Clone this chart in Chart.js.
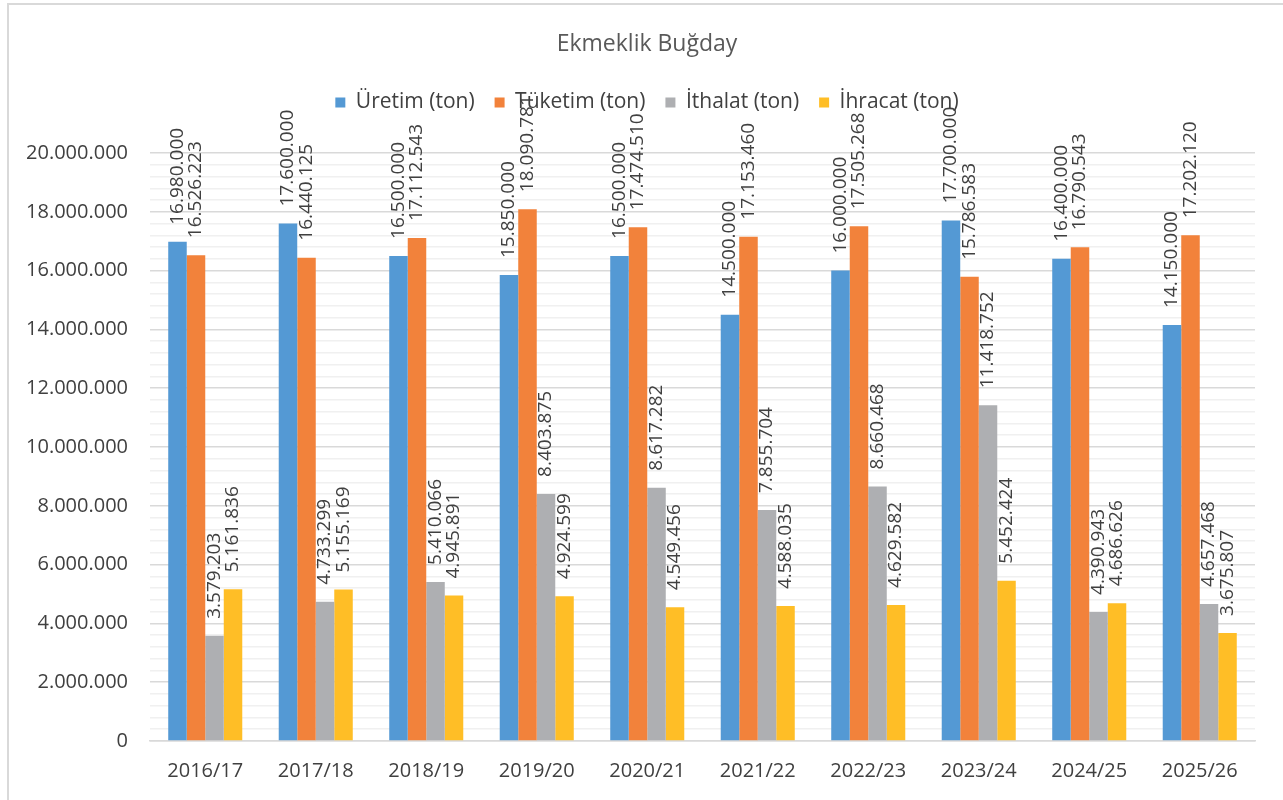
<!DOCTYPE html>
<html>
<head>
<meta charset="utf-8">
<script src="https://cdn.jsdelivr.net/npm/chart.js@4.4.1/dist/chart.umd.min.js"></script>
<style>
  html, body { margin: 0; padding: 0; background: #ffffff; }
  #wrap { position: relative; width: 1283px; height: 800px; overflow: hidden; }
  #frame { position: absolute; left: 7px; top: 3px; width: 1300px; height: 820px;
           border-left: 2px solid #d9d9d9; border-top: 2px solid #d9d9d9; }
  #c { position: absolute; left: 0; top: 0; }
</style>
</head>
<body>
<div id="wrap">
  <div id="frame"></div>
  <canvas id="c" width="1283" height="800"></canvas>
</div>
<script>
const categories = ['2016/17','2017/18','2018/19','2019/20','2020/21','2021/22','2022/23','2023/24','2024/25','2025/26'];
const uretim  = [16980000, 17600000, 16500000, 15850000, 16500000, 14500000, 16000000, 17700000, 16400000, 14150000];
const tuketim = [16526223, 16440125, 17112543, 18090781, 17474510, 17153460, 17505268, 15786583, 16790543, 17202120];
const ithalat = [3579203, 4733299, 5410066, 8403875, 8617282, 7855704, 8660468, 11418752, 4390943, 4657468];
const ihracat = [5161836, 5155169, 4945891, 4924599, 4549456, 4588035, 4629582, 5452424, 4686626, 3675807];
const seriesNames = ['Üretim (ton)', 'Tüketim (ton)', 'İthalat (ton)', 'İhracat (ton)'];
const titleText = 'Ekmeklik Buğday';

function fmt(v) {
  return String(Math.round(v)).replace(/\B(?=(\d{3})+(?!\d))/g, '.');
}

const FONT = "'Open Sans', 'Noto Sans', sans-serif";

const labelPlugin = {
  id: 'barLabels',
  afterDatasetsDraw(chart) {
    const ctx = chart.ctx;
    ctx.save();
    ctx.font = "19px " + FONT;
    ctx.fillStyle = '#404040';
    ctx.textAlign = 'left';
    ctx.textBaseline = 'middle';
    chart.data.datasets.forEach((ds, di) => {
      const meta = chart.getDatasetMeta(di);
      meta.data.forEach((el, i) => {
        ctx.save();
        ctx.translate(el.x, el.y - 17);
        ctx.rotate(-Math.PI / 2);
        ctx.fillText(fmt(ds.data[i]), 0, 0);
        ctx.restore();
      });
    });
    ctx.restore();
  }
};

// center title and legend on the whole frame rather than the padded area
const shiftPlugin = {
  id: 'shiftHeader',
  afterLayout(chart) {
    const dx = 19.5;
    [chart.titleBlock, chart.legend].forEach((b) => {
      if (b) { b.left += dx; b.right += dx; }
    });
  }
};

new Chart(document.getElementById('c'), {
  type: 'bar',
  data: {
    labels: categories,
    datasets: [
      { label: seriesNames[0], data: uretim,  backgroundColor: '#5499D4' },
      { label: seriesNames[1], data: tuketim, backgroundColor: '#F2823B' },
      { label: seriesNames[2], data: ithalat, backgroundColor: '#AEAFB2' },
      { label: seriesNames[3], data: ihracat, backgroundColor: '#FFBE26' }
    ]
  },
  options: {
    responsive: false,
    animation: false,
    devicePixelRatio: 1,
    layout: { padding: { left: 0, right: 28, top: 0, bottom: 0 } },
    datasets: { bar: { categoryPercentage: 0.67, barPercentage: 1.0, borderWidth: 0 } },
    plugins: {
      title: {
        display: true, text: titleText, color: '#595959',
        font: { family: FONT, size: 23, weight: 'normal' },
        padding: { top: 30.2, bottom: 14.2 }
      },
      subtitle: {
        display: true, text: ' ', weight: 500,
        font: { family: FONT, size: 10 },
        padding: { top: 0, bottom: 18 }
      },
      legend: {
        display: true, position: 'top',
        labels: {
          color: '#404040', boxWidth: 10, boxHeight: 10, padding: 20,
          font: { family: FONT, size: 21 }
        }
      },
      tooltip: { enabled: false }
    },
    scales: {
      x: {
        grid: { display: false, drawTicks: false },
        border: { display: true, color: '#d9d9d9', width: 1.5 },
        ticks: { color: '#404040', font: { family: FONT, size: 20 }, padding: 18 },
        afterFit(scale) { scale.height = 59; }
      },
      y: {
        min: 0, max: 20000000,
        ticks: { stepSize: 2000000, color: '#404040', font: { family: FONT, size: 20 }, padding: 22,
                 callback: (v) => fmt(v) },
        grid: { color: '#d9d9d9', lineWidth: 1.5, drawTicks: false },
        border: { display: false },
        afterFit(scale) { scale.width = 150; }
      },
      yMinor: {
        position: 'left',
        min: 0, max: 20000000,
        ticks: { stepSize: 400000, display: false },
        grid: {
          drawTicks: false, lineWidth: 1.5,
          color: (c) => (c.tick && c.tick.value % 2000000 === 0) ? 'rgba(0,0,0,0)' : '#f0f0f0'
        },
        border: { display: false },
        afterFit(scale) { scale.width = 0; }
      }
    }
  },
  plugins: [labelPlugin, shiftPlugin]
});
</script>
</body>
</html>
